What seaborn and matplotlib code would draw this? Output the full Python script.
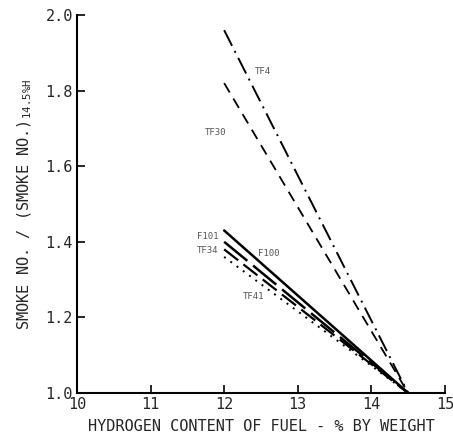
import matplotlib
matplotlib.use("Agg")
import matplotlib.pyplot as plt
import seaborn as sns
import pandas as pd

sns.set_theme(style="white")
plt.rcParams['font.family'] = ['DejaVu Sans Mono', 'DejaVu Sans']

engines = ["TF4", "TF30", "F100", "F101", "TF34", "TF41"]
h_start = [12.0, 12.0, 12.0, 12.0, 12.0, 12.0]
h_end = [14.5, 14.5, 14.5, 14.5, 14.5, 14.5]
ratio_start = [1.96, 1.82, 1.43, 1.40, 1.38, 1.36]
ratio_end = [1.0, 1.0, 1.0, 1.0, 1.0, 1.0]

x_ticks = [10, 11, 12, 13, 14, 15]
y_ticks = [1.0, 1.2, 1.4, 1.6, 1.8, 2.0]

rows = []
for e, x0, x1, y0, y1 in zip(engines, h_start, h_end, ratio_start, ratio_end):
    rows.append({"engine": e, "h": x0, "ratio": y0})
    rows.append({"engine": e, "h": x1, "ratio": y1})
df = pd.DataFrame(rows)

styles = {
    "TF4": dict(dashes=(9, 3, 1, 3), lw=1.4),
    "TF30": dict(dashes=(6, 4), lw=1.3),
    "F100": dict(dashes="", lw=1.8),
    "F101": dict(dashes=(12, 3), lw=1.8),
    "TF34": dict(dashes=(8, 3), lw=1.6),
    "TF41": dict(dashes=(1, 3), lw=1.4),
}

fig = plt.figure(figsize=(4.53, 4.43), dpi=100)
ax = fig.add_axes([0.170, 0.113, 0.812, 0.853])
for e in engines:
    sub = df[df.engine == e]
    st = styles[e]
    sns.lineplot(data=sub, x="h", y="ratio", ax=ax, color="black",
                 lw=st["lw"], legend=False)
    ln = ax.lines[-1]
    if st["dashes"]:
        ln.set_dashes(st["dashes"])

labels_pos = {
    "TF4": (12.42, 1.85),
    "TF30": (11.74, 1.69),
    "F101": (11.63, 1.415),
    "TF34": (11.63, 1.378),
    "F100": (12.46, 1.37),
    "TF41": (12.26, 1.255),
}
for e, (x, y) in labels_pos.items():
    ax.text(x, y, e, fontsize=6.5, color="#555555", va="center", ha="left")

ax.set_xlim(10, 15)
ax.set_ylim(1.0, 2.0)
ax.set_xticks(x_ticks)
ax.set_yticks(y_ticks)
ax.set_xticklabels([str(t) for t in x_ticks], fontsize=11)
ax.set_yticklabels([f"{t:.1f}" for t in y_ticks], fontsize=11)
ax.tick_params(direction="in", length=6, width=1.2, color="black", pad=3,
               bottom=True, left=True)
for s in ["top", "right"]:
    ax.spines[s].set_visible(False)
for s in ["left", "bottom"]:
    ax.spines[s].set_color("black")
    ax.spines[s].set_linewidth(1.5)

ax.set_xlabel("HYDROGEN CONTENT OF FUEL - % BY WEIGHT", fontsize=11, labelpad=5)
ax.set_ylabel(r"SMOKE NO. / (SMOKE NO.)$_{\mathregular{14.5\%H}}$", fontsize=11, labelpad=8)

fig.savefig("out.png", dpi=100)
